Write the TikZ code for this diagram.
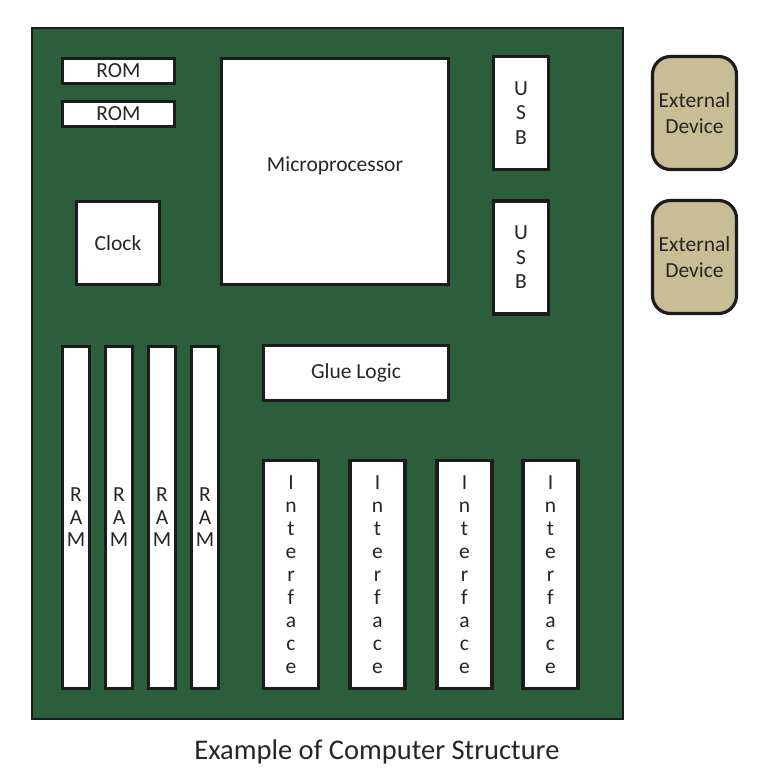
\documentclass[tikz,border=0pt]{standalone}
\usepackage{fontspec}
\setmainfont{Carlito}
\definecolor{boardgreen}{RGB}{45,94,60}
\definecolor{devtan}{RGB}{201,189,150}
\definecolor{edge}{RGB}{28,28,28}
\begin{document}
\begin{tikzpicture}[x=1pt,y=-1pt,
  board/.style={draw=edge,line width=2pt,fill=boardgreen,inner sep=0pt},
  chip/.style={draw=edge,line width=3.2pt,fill=white,inner sep=0pt,text=black!85,
     font=\fontsize{21.5}{23}\selectfont,align=center},
  dev/.style={draw=edge,line width=3.2pt,fill=devtan,inner sep=0pt,rounded corners=18pt,
     text=black!85,font=\fontsize{21.5}{26}\selectfont,align=center,
     minimum width=84pt,minimum height=113pt},
  ram/.style={chip,minimum width=27pt,minimum height=342pt},
  intf/.style={chip,minimum width=55pt,minimum height=228pt},
  usb/.style={chip,minimum width=55pt,minimum height=113pt,font=\fontsize{21.5}{24.5}\selectfont},
  rom/.style={chip,minimum width=112pt,minimum height=25pt}]
\useasboundingbox (0,0) rectangle (762,776);
\node[board,minimum width=591pt,minimum height=691pt] (board) at (327.5,373.5) {};
\node[rom] (rom1) at (118.5,71) {ROM};
\node[rom] (rom2) at (118.5,114) {ROM};
\node[chip,minimum width=227pt,minimum height=226pt] (cpu) at (335,171.5) {};
\node[chip,draw=none,fill=none] (cpulabel) at (335,166) {Microprocessor};
\node[usb] (usb1) at (521,113) {U\\S\\B};
\node[usb] (usb2) at (521,257.5) {U\\S\\B};
\node[chip,minimum width=83pt,minimum height=83pt] (clock) at (118,243) {Clock};
\node[dev] (dev1) at (694.5,113) {External\\Device};
\node[dev] (dev2) at (694.5,257) {External\\Device};
\foreach \i/\x in {1/76,2/119,3/162,4/205}{
  \node[ram,font=\fontsize{21.5}{22.5}\selectfont] (ram\i) at (\x,517.5) {R\\A\\M};
}
\node[chip,minimum width=185pt,minimum height=55pt] (glue) at (356,373) {Glue Logic};
\foreach \i/\x in {1/291,2/377.5,3/464.5,4/550.5}{
  \node[intf] (if\i) at (\x,574.5) {I\\n\\t\\e\\r\\f\\a\\c\\e};
}
\node[text=black!85,font=\fontsize{28.5}{30}\selectfont,inner sep=0pt] (caption) at (377,752) {Example of Computer Structure};
\end{tikzpicture}
\end{document}
